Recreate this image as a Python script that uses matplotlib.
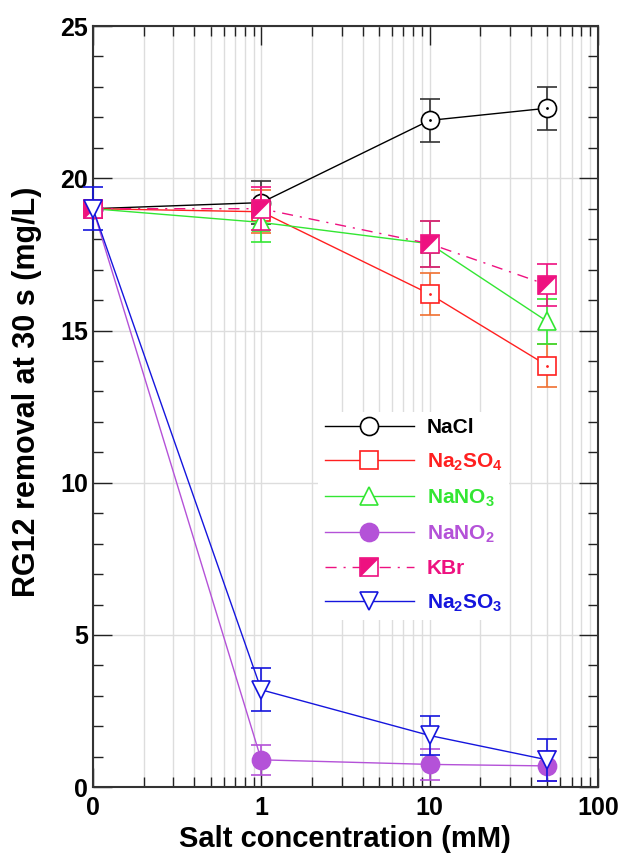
import numpy as np
import matplotlib
matplotlib.use("Agg")
import matplotlib.pyplot as plt
from matplotlib.ticker import FixedLocator, NullFormatter, LogLocator

plt.rcParams["font.family"] = ["Liberation Sans", "DejaVu Sans"]
plt.rcParams["font.weight"] = "bold"
plt.rcParams["mathtext.fontset"] = "custom"
plt.rcParams["mathtext.rm"] = "Liberation Sans:bold"
plt.rcParams["mathtext.bf"] = "Liberation Sans:bold"
plt.rcParams["mathtext.default"] = "bf"

# ── data (mM, mg/L) ───────────────────────────────────────────────
conc = [0, 1, 10, 50]
nacl = [19.0, 19.2, 21.9, 22.3]
nacl_err = [0.3, 0.7, 0.7, 0.7]
na2so4 = [19.0, 18.9, 16.2, 13.85]
na2so4_err = [0.3, 0.7, 0.7, 0.7]
nano3 = [19.0, 18.55, 17.85, 15.3]
nano3_err = [0.3, 0.65, 0.75, 0.75]
nano2 = [19.0, 0.9, 0.75, 0.7]
nano2_err = [0.3, 0.5, 0.5, 0.5]
kbr = [19.0, 19.0, 17.85, 16.5]
kbr_err = [0.3, 0.7, 0.75, 0.7]
na2so3 = [19.0, 3.2, 1.7, 0.9]
na2so3_err = [0.7, 0.7, 0.65, 0.7]

labels = ["NaCl", r"Na$_{2}$SO$_{4}$", r"NaNO$_{3}$", r"NaNO$_{2}$", "KBr", r"Na$_{2}$SO$_{3}$"]

# "0" is drawn at 0.1 on the log axis
x = [c if c > 0 else 0.1 for c in conc]

fig = plt.figure(figsize=(6.24, 8.67), dpi=100)
ax = fig.add_axes([0.149, 0.092, 0.809, 0.878])

ms = 13
ebkw = dict(capsize=7, elinewidth=1.2, capthick=1.2)

def series(y, err, color, ecolor, marker, ls="-", mfc="white", dot=True, z=3):
    eb = ax.errorbar(x, y, yerr=err, fmt="none", ecolor=ecolor, zorder=z, **ebkw)
    for art in eb.lines[1] + eb.lines[2]:
        art.set_clip_on(False)
    h, = ax.plot(x, y, ls=ls, color=color, lw=1, marker=marker, ms=ms,
                 mfc=mfc, mec=color, mew=1.2, zorder=z + 0.1, clip_on=False)
    if dot:
        ax.plot(x, y, ls="none", marker=".", ms=2, color=color, zorder=z + 0.2, clip_on=False)
    return h

h1 = series(nacl, nacl_err, "black", "#333333", "o", z=3)
h2 = series(na2so4, na2so4_err, "#ff2020", "#f07030", "s", z=4)
h3 = series(nano3, nano3_err, "#33e633", "#33e633", "^", dot=False, z=5)
h4 = series(nano2, nano2_err, "#b452d8", "#b452d8", "o", mfc="#b452d8", dot=False, z=6)

# KBr: square half filled along the diagonal
kcol = "#ee1180"
ax.errorbar(x, kbr, yerr=kbr_err, fmt="none", ecolor=kcol, zorder=7, **ebkw)
h5a, = ax.plot(x, kbr, ls=(0, (8, 5, 1.5, 5)), color=kcol, lw=1, marker="s", ms=ms,
               mfc="white", mec=kcol, mew=1.2, zorder=7.1, clip_on=False)
tri = [(-1, 1), (1, 1), (-1, -1), (-1, 1)]
h5b, = ax.plot(x, kbr, ls="none", marker=tri, ms=ms, mfc=kcol, mec=kcol, mew=0.5,
               zorder=7.2, clip_on=False)

h6 = series(na2so3, na2so3_err, "#1515dd", "#1515dd", "v", dot=False, z=8)

ax.set_xscale("log")
ax.set_xlim(0.1, 100)
ax.set_ylim(0, 25)
ax.xaxis.set_major_locator(FixedLocator([0.1, 1, 10, 100]))
ax.set_xticklabels(["0", "1", "10", "100"])
ax.xaxis.set_minor_locator(LogLocator(base=10, subs=np.arange(2, 10), numticks=20))
ax.xaxis.set_minor_formatter(NullFormatter())
ax.set_yticks([0, 5, 10, 15, 20, 25])
ax.set_yticks(np.arange(0, 26, 1), minor=True)

ax.tick_params(which="both", direction="in", top=True, right=True, labelsize=18, width=1, color="#222222")
ax.tick_params(which="major", length=14)
ax.tick_params(which="minor", length=7)
ax.tick_params(axis="x", pad=6)
ax.grid(True, axis="x", which="both", color="#dddddd", lw=1, zorder=0)
ax.grid(True, axis="y", which="major", color="#dddddd", lw=1, zorder=0)
ax.set_axisbelow(True)
for s in ax.spines.values():
    s.set_linewidth(1.5)
    s.set_color("#333333")

ax.set_xlabel("Salt concentration (mM)", fontsize=21, fontweight="bold", labelpad=4)
ax.set_ylabel("RG12 removal at 30 s (mg/L)", fontsize=22, fontweight="bold")
ax.yaxis.set_label_coords(-0.1, 0.52)

leg = ax.legend([h1, h2, h3, h4, (h5a, h5b), h6], labels,
                loc="upper left", bbox_to_anchor=(0.426, 0.507), frameon=True, framealpha=1,
                edgecolor="none", fontsize=15, handlelength=4.3, labelspacing=0.7,
                borderpad=0.3, handletextpad=0.6, numpoints=1)
leg_colors = ["black", "#ff2020", "#33e633", "#b452d8", kcol, "#1515dd"]
for t, c in zip(leg.get_texts(), leg_colors):
    t.set_color(c)
    t.set_fontweight("bold")
leg.set_zorder(20)

fig.savefig("out.png", dpi=100)
